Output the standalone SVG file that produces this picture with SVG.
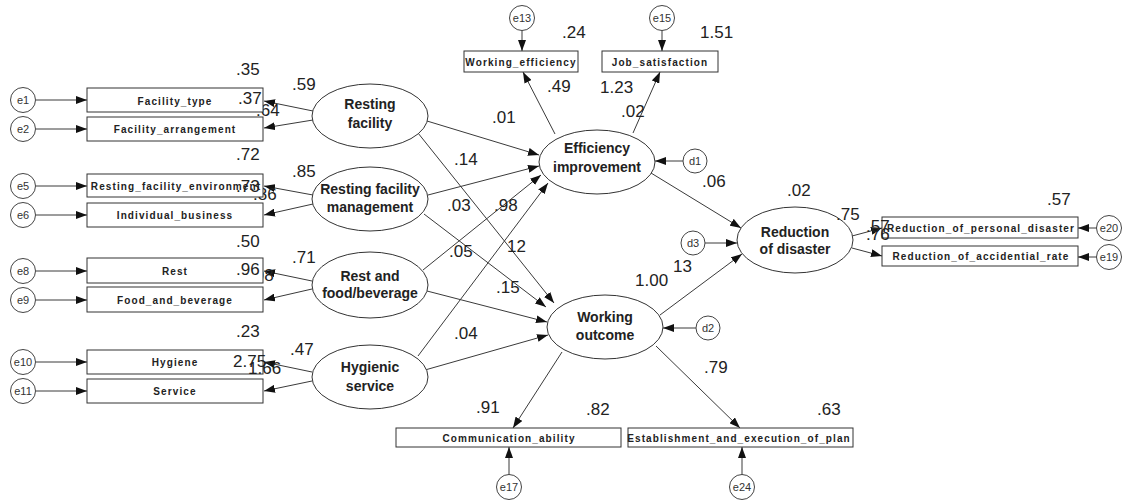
<svg xmlns="http://www.w3.org/2000/svg" width="1123" height="502" viewBox="0 0 1123 502">
<style>
.bg{fill:#fff}
.box{fill:#fff;stroke:#333;stroke-width:1}
.lat{fill:#fff;stroke:#333;stroke-width:1}
.err{fill:#fff;stroke:#444;stroke-width:1}
.ln{stroke:#3a3a3a;stroke-width:1;fill:none;marker-end:url(#ah)}
.bt{font-family:"Liberation Sans",Arial,sans-serif;font-size:10px;font-weight:bold;letter-spacing:1.1px;fill:#222;text-anchor:middle}
.lt{font-family:"Liberation Sans",Arial,sans-serif;font-size:14px;font-weight:bold;fill:#222;text-anchor:middle}
.et{font-family:"Liberation Sans",Arial,sans-serif;font-size:11px;fill:#333;text-anchor:middle}
.num{font-family:"Liberation Sans",Arial,sans-serif;font-size:17px;fill:#222}
</style>
<defs>
<marker id="ah" markerUnits="userSpaceOnUse" markerWidth="11" markerHeight="8" refX="11" refY="4" orient="auto">
<path d="M0,0 L11,4 L0,8 z" fill="#111"/>
</marker>
</defs>
<rect class="bg" x="0" y="0" width="1123" height="502"/>

<g id="connectors">
<line class="ln" x1="36" y1="100" x2="87" y2="100"/>
<line class="ln" x1="36" y1="129" x2="87" y2="129"/>
<line class="ln" x1="36" y1="186" x2="87" y2="186"/>
<line class="ln" x1="36" y1="215" x2="87" y2="215"/>
<line class="ln" x1="36" y1="271" x2="87" y2="271"/>
<line class="ln" x1="36" y1="300" x2="87" y2="300"/>
<line class="ln" x1="36" y1="362" x2="87" y2="362"/>
<line class="ln" x1="36" y1="391" x2="87" y2="391"/>
<line class="ln" x1="313" y1="111" x2="264" y2="101"/>
<line class="ln" x1="313" y1="120" x2="264" y2="128"/>
<line class="ln" x1="313" y1="195" x2="264" y2="186"/>
<line class="ln" x1="313" y1="204" x2="264" y2="215"/>
<line class="ln" x1="312" y1="281" x2="264" y2="271"/>
<line class="ln" x1="312" y1="289" x2="264" y2="300"/>
<line class="ln" x1="312" y1="372" x2="264" y2="362"/>
<line class="ln" x1="312" y1="381" x2="264" y2="391"/>
<line class="ln" x1="427" y1="121" x2="539" y2="155"/>
<line class="ln" x1="418" y1="133" x2="554" y2="303"/>
<line class="ln" x1="428" y1="195" x2="539" y2="166"/>
<line class="ln" x1="424" y1="214" x2="546" y2="307"/>
<line class="ln" x1="423" y1="270" x2="541" y2="175"/>
<line class="ln" x1="418" y1="356" x2="548" y2="183"/>
<line class="ln" x1="427" y1="291" x2="547" y2="322"/>
<line class="ln" x1="425" y1="370" x2="548" y2="335"/>
<line class="ln" x1="555" y1="134" x2="523" y2="72"/>
<line class="ln" x1="633" y1="133" x2="660" y2="72"/>
<line class="ln" x1="651" y1="173" x2="741" y2="228"/>
<line class="ln" x1="660" y1="315" x2="742" y2="254"/>
<line class="ln" x1="705" y1="243" x2="737" y2="243"/>
<line class="ln" x1="683" y1="161" x2="655" y2="161"/>
<line class="ln" x1="696" y1="328" x2="663" y2="328"/>
<line class="ln" x1="562" y1="352" x2="513" y2="428"/>
<line class="ln" x1="656" y1="346" x2="740" y2="428"/>
<line class="ln" x1="852" y1="236" x2="882" y2="228"/>
<line class="ln" x1="852" y1="248" x2="882" y2="256"/>
<line class="ln" x1="1097" y1="228" x2="1078" y2="228"/>
<line class="ln" x1="1097" y1="257" x2="1078" y2="257"/>
<line class="ln" x1="522" y1="30" x2="522" y2="51"/>
<line class="ln" x1="662" y1="30" x2="662" y2="51"/>
<line class="ln" x1="509" y1="475" x2="509" y2="447"/>
<line class="ln" x1="742" y1="475" x2="742" y2="447"/>
</g>

<g id="e1"><circle class="err" cx="23" cy="100" r="12.5"/><text class="et" x="23" y="104">e1</text></g>
<g id="e2"><circle class="err" cx="23" cy="129" r="12.5"/><text class="et" x="23" y="133">e2</text></g>
<g id="e5"><circle class="err" cx="23" cy="186" r="12.5"/><text class="et" x="23" y="190">e5</text></g>
<g id="e6"><circle class="err" cx="23" cy="215" r="12.5"/><text class="et" x="23" y="219">e6</text></g>
<g id="e8"><circle class="err" cx="23" cy="271" r="12.5"/><text class="et" x="23" y="275">e8</text></g>
<g id="e9"><circle class="err" cx="23" cy="300" r="12.5"/><text class="et" x="23" y="304">e9</text></g>
<g id="e10"><circle class="err" cx="23" cy="362" r="12.5"/><text class="et" x="23" y="366">e10</text></g>
<g id="e11"><circle class="err" cx="23" cy="391" r="12.5"/><text class="et" x="23" y="395">e11</text></g>
<g id="e13"><circle class="err" cx="522" cy="18" r="12.5"/><text class="et" x="522" y="22">e13</text></g>
<g id="e15"><circle class="err" cx="662" cy="18" r="12.5"/><text class="et" x="662" y="22">e15</text></g>
<g id="e17"><circle class="err" cx="509" cy="487" r="12.5"/><text class="et" x="509" y="491">e17</text></g>
<g id="e24"><circle class="err" cx="742" cy="487" r="12.5"/><text class="et" x="742" y="491">e24</text></g>
<g id="e20"><circle class="err" cx="1109" cy="228" r="12.5"/><text class="et" x="1109" y="232">e20</text></g>
<g id="e19"><circle class="err" cx="1109" cy="257" r="12.5"/><text class="et" x="1109" y="261">e19</text></g>
<g id="d1"><circle class="err" cx="695" cy="161" r="12"/><text class="et" x="695" y="165">d1</text></g>
<g id="d2"><circle class="err" cx="708" cy="328" r="12"/><text class="et" x="708" y="332">d2</text></g>
<g id="d3"><circle class="err" cx="693" cy="243" r="12"/><text class="et" x="693" y="247">d3</text></g>

<g id="lbl-hidden">
<text class="num" x="256" y="116">.64</text>
<text class="num" x="253" y="200">.86</text>
<text class="num" x="250" y="281">.98</text>
</g>

<g id="facility_type"><rect class="box" x="87" y="88" width="176" height="24"/><text class="bt" x="175" y="105">Facility_type</text></g>
<g id="facility_arrangement"><rect class="box" x="87" y="117" width="176" height="24"/><text class="bt" x="175" y="133">Facility_arrangement</text></g>
<g id="resting_facility_environment"><rect class="box" x="87" y="174" width="176" height="23"/><text class="bt" x="176" y="190">Resting_facility_environment</text></g>
<g id="individual_business"><rect class="box" x="87" y="203" width="176" height="24"/><text class="bt" x="175" y="219">Individual_business</text></g>
<g id="rest"><rect class="box" x="87" y="258" width="176" height="25"/><text class="bt" x="175" y="275">Rest</text></g>
<g id="food_and_beverage"><rect class="box" x="87" y="287" width="176" height="25"/><text class="bt" x="175" y="304">Food_and_beverage</text></g>
<g id="hygiene"><rect class="box" x="87" y="350" width="176" height="24"/><text class="bt" x="175" y="366">Hygiene</text></g>
<g id="service"><rect class="box" x="87" y="379" width="176" height="24"/><text class="bt" x="175" y="395">Service</text></g>
<g id="working_efficiency"><rect class="box" x="464" y="51" width="114" height="21"/><text class="bt" x="521" y="66">Working_efficiency</text></g>
<g id="job_satisfaction"><rect class="box" x="602" y="51" width="116" height="21"/><text class="bt" x="660" y="66">Job_satisfaction</text></g>
<g id="communication_ability"><rect class="box" x="396" y="428" width="225" height="19"/><text class="bt" x="509" y="442">Communication_ability</text></g>
<g id="establishment"><rect class="box" x="628" y="428" width="225" height="19"/><text class="bt" x="739" y="442">Establishment_and_execution_of_plan</text></g>
<g id="reduction_personal"><rect class="box" x="882" y="217" width="196" height="21"/><text class="bt" x="981" y="232">Reduction_of_personal_disaster</text></g>
<g id="reduction_accidential"><rect class="box" x="882" y="246" width="196" height="20"/><text class="bt" x="981" y="260">Reduction_of_accidential_rate</text></g>

<g id="resting_facility"><ellipse class="lat" cx="370" cy="116" rx="58" ry="32"/><text class="lt" x="370" y="109">Resting</text><text class="lt" x="370" y="128">facility</text></g>
<g id="resting_facility_management"><ellipse class="lat" cx="370" cy="199" rx="58" ry="32"/><text class="lt" x="370" y="194">Resting facility</text><text class="lt" x="370" y="212">management</text></g>
<g id="rest_food"><ellipse class="lat" cx="370" cy="285" rx="58" ry="33"/><text class="lt" x="370" y="281">Rest and</text><text class="lt" x="370" y="298">food/beverage</text></g>
<g id="hygienic_service"><ellipse class="lat" cx="370" cy="377" rx="58" ry="32"/><text class="lt" x="370" y="372">Hygienic</text><text class="lt" x="370" y="391">service</text></g>
<g id="efficiency_improvement"><ellipse class="lat" cx="597" cy="162" rx="58" ry="32"/><text class="lt" x="597" y="153">Efficiency</text><text class="lt" x="597" y="172">improvement</text></g>
<g id="working_outcome"><ellipse class="lat" cx="605" cy="327" rx="58" ry="32"/><text class="lt" x="605" y="322">Working</text><text class="lt" x="605" y="340">outcome</text></g>
<g id="reduction_of_disaster"><ellipse class="lat" cx="795" cy="240" rx="58" ry="33"/><text class="lt" x="795" y="237">Reduction</text><text class="lt" x="795" y="254">of disaster</text></g>

<g id="labels">
<text class="num" x="236" y="75">.35</text>
<text class="num" x="238" y="104">.37</text>
<text class="num" x="292" y="90">.59</text>
<text class="num" x="236" y="160">.72</text>
<text class="num" x="236" y="192">.73</text>
<text class="num" x="292" y="177">.85</text>
<text class="num" x="236" y="247">.50</text>
<text class="num" x="236" y="275">.96</text>
<text class="num" x="292" y="263">.71</text>
<text class="num" x="236" y="337">.23</text>
<text class="num" x="233" y="367">2.75</text>
<text class="num" x="248" y="374">1.66</text>
<text class="num" x="290" y="355">.47</text>
<text class="num" x="562" y="38">.24</text>
<text class="num" x="700" y="38">1.51</text>
<text class="num" x="547" y="92">.49</text>
<text class="num" x="600" y="93">1.23</text>
<text class="num" x="621" y="117">.02</text>
<text class="num" x="492" y="123">.01</text>
<text class="num" x="454" y="165">.14</text>
<text class="num" x="702" y="187">.06</text>
<text class="num" x="447" y="211">.03</text>
<text class="num" x="494" y="211">.98</text>
<text class="num" x="449" y="257">.05</text>
<text class="num" x="507" y="252">12</text>
<text class="num" x="496" y="293">.15</text>
<text class="num" x="454" y="339">.04</text>
<text class="num" x="635" y="286">1.00</text>
<text class="num" x="673" y="272">13</text>
<text class="num" x="704" y="373">.79</text>
<text class="num" x="476" y="413">.91</text>
<text class="num" x="586" y="415">.82</text>
<text class="num" x="817" y="415">.63</text>
<text class="num" x="787" y="196">.02</text>
<text class="num" x="836" y="220">.75</text>
<text class="num" x="1047" y="205">.57</text>
<text class="num" x="866" y="232">.57</text>
<text class="num" x="866" y="240">.76</text>
</g>
</svg>
